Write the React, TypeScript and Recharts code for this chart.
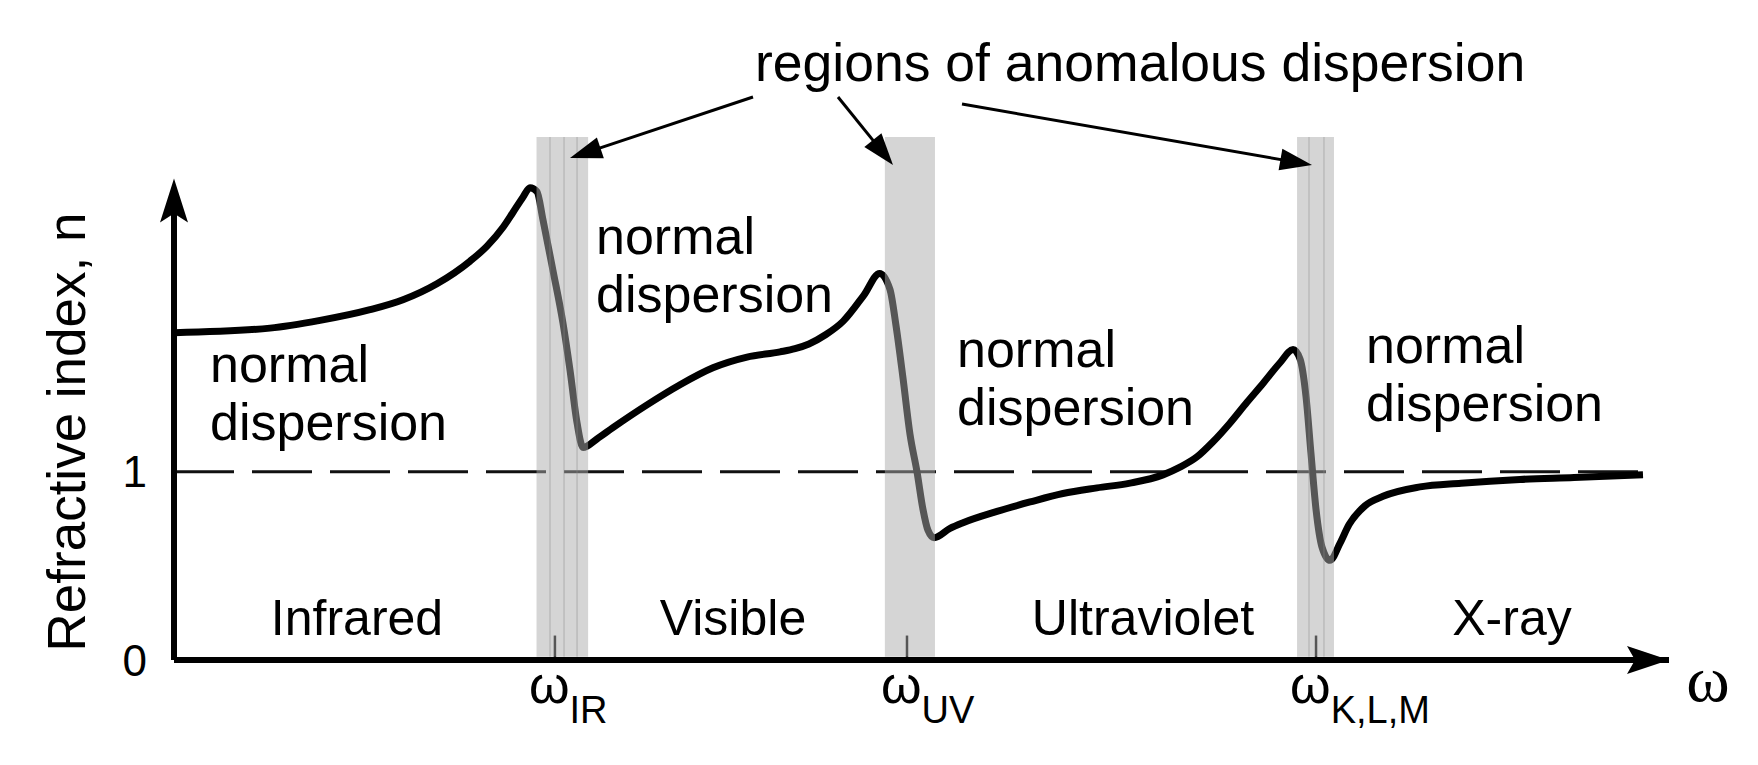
import React from 'react';
import { LineChart, Line, XAxis, YAxis, ReferenceLine, ReferenceArea, ReferenceDot } from 'recharts';

// ---- data (ω in arbitrary units 0..100, n refractive index) ----
const omega = [0, 6.42, 9.77, 13.11, 15.32, 17.59, 19.8, 20.94, 22.01, 22.68, 23.34, 23.81, 24.28, 24.68, 25.35, 26.02, 26.49, 26.96, 27.36, 28.29, 29.36, 31.64, 33.85, 36.05, 38.33, 40.54, 41.54, 42.47, 43.61, 44.75, 46.15, 47.2, 47.89, 48.29, 48.76, 49.23, 49.7, 50.1, 50.43, 50.84, 51.91, 52.78, 55.05, 57.26, 59.46, 61.74, 63.95, 66.15, 67.29, 68.43, 69.5, 70.64, 71.77, 72.84, 73.98, 74.85, 75.32, 75.72, 76.05, 76.39, 76.79, 77.32, 77.99, 78.6, 79.67, 80.87, 83.34, 86.09, 90.03, 93.65, 98.26];
const refractiveIndex = [1.74, 1.764, 1.805, 1.862, 1.915, 2.0, 2.12, 2.2, 2.3, 2.38, 2.46, 2.51, 2.49, 2.34, 2.07, 1.79, 1.54, 1.26, 1.13, 1.175, 1.235, 1.356, 1.463, 1.553, 1.61, 1.638, 1.655, 1.68, 1.73, 1.8, 1.94, 2.055, 1.97, 1.78, 1.5, 1.2, 1.0, 0.8, 0.69, 0.65, 0.7, 0.73, 0.79, 0.84, 0.885, 0.915, 0.94, 0.984, 1.025, 1.08, 1.16, 1.26, 1.37, 1.47, 1.58, 1.65, 1.6, 1.4, 1.1, 0.8, 0.6, 0.53, 0.62, 0.72, 0.82, 0.87, 0.92, 0.94, 0.96, 0.97, 0.985];

const resonanceOmega = [25.48, 49.03, 76.39];
const resonanceSubscripts = ['IR', 'UV', 'K,L,M'];
const bandStart = [24.25, 47.55, 75.12];
const bandEnd = [27.7, 50.9, 77.59];
const bandInnerLines = [25.15, 26.09, 26.96, 75.92, 76.92];
const yTicks = [0, 1];
const regionLabels = ['Infrared', 'Visible', 'Ultraviolet', 'X-ray'];
const annotationTitle = 'regions of anomalous dispersion';
const normalLabel = ['normal', 'dispersion'];
const yAxisTitle = 'Refractive index, n';
const xAxisTitle = 'ω';

const X_MAX = 100;
const Y_MAX = 2.78;
const Y_ARROW = 2.56;
const DASH_END = 98.6;

const data = omega.map((w, i) => ({ omega: w, n: refractiveIndex[i] }));

const W = 1758;
const H = 765;
const MARGIN = { top: 137, right: 89, bottom: 75, left: 74 };
const FONT = '"Liberation Sans", Arial, Helvetica, sans-serif';

const OmegaTick = (props: any) => {
  const { x, y, payload } = props;
  const i = resonanceOmega.indexOf(payload.value);
  return (
    <text x={x - 26} y={y + 35} fontFamily={FONT} fontSize={52} fill="#000">
      <tspan>ω</tspan>
      <tspan fontSize={38} dy={20}>{resonanceSubscripts[i]}</tspan>
    </text>
  );
};

const upArrow = (props: any) => {
  const { cx, cy } = props;
  return <polygon points={`${cx},${cy} ${cx - 14},${cy + 44} ${cx},${cy + 35} ${cx + 14},${cy + 44}`} fill="#000" />;
};
const rightArrow = (props: any) => {
  const { cx, cy } = props;
  return <polygon points={`${cx},${cy} ${cx - 42},${cy - 14} ${cx - 34},${cy} ${cx - 42},${cy + 14}`} fill="#000" />;
};

function arrowHead(x1: number, y1: number, x2: number, y2: number, len = 32, hw = 11) {
  const dx = x2 - x1, dy = y2 - y1;
  const L = Math.hypot(dx, dy);
  const ux = dx / L, uy = dy / L;
  const bx = x2 - ux * len, by = y2 - uy * len;
  return `${x2},${y2} ${bx - uy * hw},${by + ux * hw} ${bx + uy * hw},${by - ux * hw}`;
}

const annotationArrows = [
  [753, 97, 570, 158],
  [838, 97, 893, 165],
  [962, 104, 1312, 165],
];

const normalLabelPos = [
  [210, 382],
  [596, 254],
  [957, 367],
  [1366, 363],
];
const regionLabelPos = [357, 733, 1143, 1512];

export default function App() {
  return (
    <div style={{ position: 'absolute', left: 0, top: 0, width: W, height: H, background: '#fff' }}>
      <div style={{ position: 'absolute', left: 0, top: 0 }}>
        <LineChart width={W} height={H} data={data} margin={MARGIN}>
          <XAxis
            type="number"
            dataKey="omega"
            domain={[0, X_MAX]}
            ticks={resonanceOmega}
            interval={0}
            tick={<OmegaTick />}
            tickLine={false}
            axisLine={{ stroke: '#000', strokeWidth: 6 }}
            height={30}
            allowDataOverflow
          />
          <YAxis
            type="number"
            domain={[0, Y_MAX]}
            ticks={yTicks}
            width={100}
            axisLine={false}
            tickLine={false}
            tickMargin={21}
            tick={{ fontSize: 44, fill: '#000', fontFamily: FONT }}
            allowDataOverflow
          />
          <ReferenceLine
            segment={[{ x: 0, y: 1 }, { x: DASH_END, y: 1 }]}
            stroke="#111"
            strokeWidth={3}
            strokeDasharray="60 18"
            ifOverflow="visible"
          />
          {resonanceOmega.map((w) => (
            <ReferenceLine
              key={w}
              segment={[{ x: w, y: 0 }, { x: w, y: 0.13 }]}
              stroke="#000"
              strokeWidth={2.5}
              ifOverflow="visible"
            />
          ))}
          <Line
            type="monotone"
            dataKey="n"
            stroke="#000"
            strokeWidth={7}
            dot={false}
            activeDot={false}
            isAnimationActive={false}
          />
          <ReferenceLine
            segment={[{ x: 0, y: 0 }, { x: 0, y: Y_ARROW - 0.15 }]}
            stroke="#000"
            strokeWidth={6}
            ifOverflow="visible"
          />
          <ReferenceDot x={0} y={Y_ARROW} r={1} shape={upArrow} ifOverflow="visible" />
          <ReferenceDot x={X_MAX} y={0} r={1} shape={rightArrow} ifOverflow="visible" />
        </LineChart>
      </div>
      {/* translucent bands over the curve */}
      <div style={{ position: 'absolute', left: 0, top: 0, pointerEvents: 'none' }}>
        <LineChart width={W} height={H} data={data} margin={MARGIN}>
          <XAxis type="number" dataKey="omega" domain={[0, X_MAX]} tick={false} tickLine={false} axisLine={false} height={30} allowDataOverflow />
          <YAxis type="number" domain={[0, Y_MAX]} tick={false} tickLine={false} axisLine={false} width={100} allowDataOverflow />
          <Line dataKey="n" stroke="none" dot={false} activeDot={false} isAnimationActive={false} />
          {bandStart.map((s, i) => (
            <ReferenceArea
              key={i}
              x1={s}
              x2={bandEnd[i]}
              y1={0.017}
              y2={Y_MAX}
              fill="#acacac"
              fillOpacity={0.5}
              stroke="none"
              ifOverflow="visible"
            />
          ))}
          {bandInnerLines.map((w) => (
            <ReferenceLine
              key={w}
              segment={[{ x: w, y: 0.017 }, { x: w, y: Y_MAX }]}
              stroke="#8a8a8a"
              strokeOpacity={0.35}
              strokeWidth={1.5}
              ifOverflow="visible"
            />
          ))}
        </LineChart>
      </div>
      {/* annotations */}
      <svg width={W} height={H} style={{ position: 'absolute', left: 0, top: 0, pointerEvents: 'none' }} fontFamily={FONT}>
        <text x={755} y={81} fontSize={53.5} fill="#000">{annotationTitle}</text>
        {annotationArrows.map(([x1, y1, x2, y2], i) => {
          const L = Math.hypot(x2 - x1, y2 - y1);
          const ex = x2 - ((x2 - x1) / L) * 24;
          const ey = y2 - ((y2 - y1) / L) * 24;
          return (
            <g key={i}>
              <line x1={x1} y1={y1} x2={ex} y2={ey} stroke="#000" strokeWidth={3} />
              <polygon points={arrowHead(x1, y1, x2, y2)} fill="#000" />
            </g>
          );
        })}
        {normalLabelPos.map(([x, y], i) => (
          <text key={i} x={x} y={y} fontSize={52} fill="#000">
            <tspan x={x} y={y}>{normalLabel[0]}</tspan>
            <tspan x={x} y={y + 58}>{normalLabel[1]}</tspan>
          </text>
        ))}
        {regionLabels.map((t, i) => (
          <text key={t} x={regionLabelPos[i]} y={635} fontSize={50} textAnchor="middle" fill="#000">{t}</text>
        ))}
        <text transform="translate(85, 432) rotate(-90)" textAnchor="middle" fontSize={53} fill="#000">{yAxisTitle}</text>
        <text x={1708} y={701} textAnchor="middle" fontSize={66} fontFamily='"Liberation Serif", "Times New Roman", serif' fill="#000">{xAxisTitle}</text>
      </svg>
    </div>
  );
}
